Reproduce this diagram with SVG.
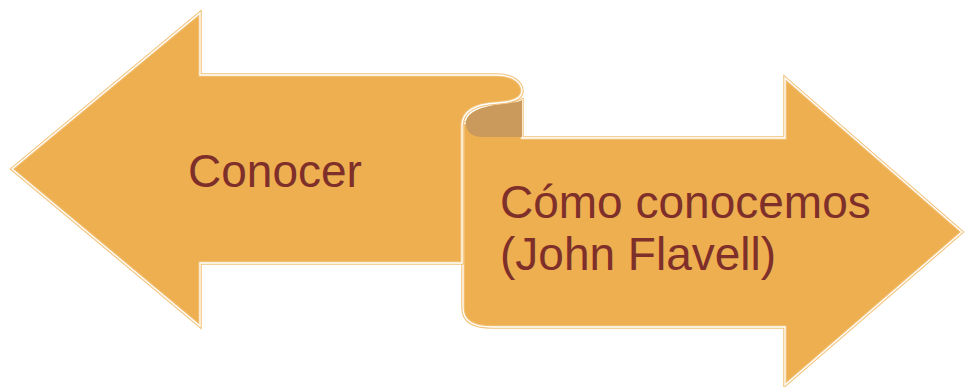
<svg xmlns="http://www.w3.org/2000/svg" width="964" height="387" viewBox="0 0 964 387">
<style>
.body{fill:#EDAF50;stroke:#F2C27A;stroke-width:3.5;stroke-linejoin:miter}
.inner{fill:none;stroke:#FFFFFF;stroke-width:1.3;stroke-linejoin:miter}
.back{fill:#C99A5C}
.lbl{font-family:"Liberation Sans",Arial,sans-serif;font-size:46px;fill:#7F2F2A}
</style>
<rect width="964" height="387" fill="#FFFFFF"/>
<g id="arrow-right">
<path class="body" d="M463,124 L463,308 Q463,327 492,327 L785,327 L785,385 L962,232 L785,78 L785,138 L522,138 L522,100 Z"/>
<path class="inner" d="M463,124 L463,308 Q463,327 492,327 L785,327 L785,385 L962,232 L785,78 L785,138 L522,138 L522,100 Z"/>
<path class="back" d="M522,100 L522,137 L483,137 C470,137 465,130 466,121 C468,112 480,107 500,104 C512,103 519,102 522,100 Z"/>
<text class="lbl" x="500" y="218">Cómo conocemos</text>
<text class="lbl" x="500" y="270">(John Flavell)</text>
</g>
<g id="arrow-left">
<path class="body" d="M12,169 L200,13 L200,75 L497,75 C513,75 522,83 522,91 C522,98 514,102 497,103 C476,104 462,111 462,126 L462,263 L200,263 L200,326 Z"/>
<path class="inner" d="M12,169 L200,13 L200,75 L497,75 C513,75 522,83 522,91 C522,98 514,102 497,103 C476,104 462,111 462,126 L462,263 L200,263 L200,326 Z"/>
<text class="lbl" x="188" y="187">Conocer</text>
</g>
<g id="connectors"></g>
</svg>
